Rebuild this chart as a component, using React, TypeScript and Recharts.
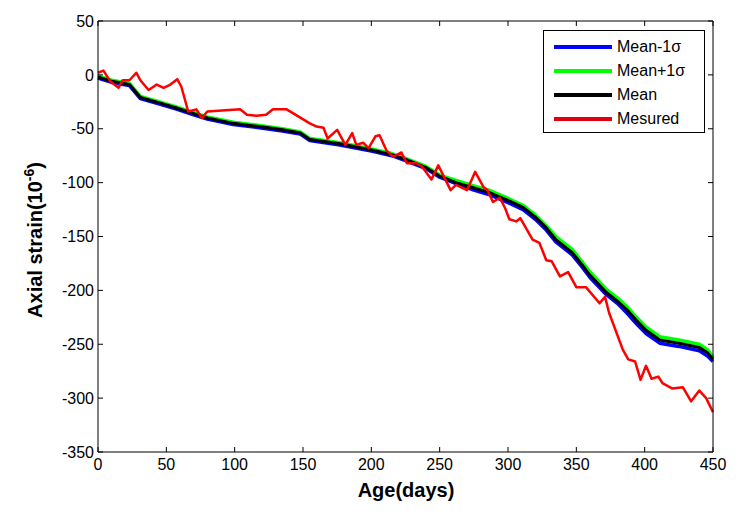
import { Line, LineChart, XAxis, YAxis } from "recharts";

const meanDays = [0, 10, 23, 31, 45, 58, 70, 80, 99, 118, 135, 148, 155, 177, 201, 215, 226, 240, 250, 262, 275, 286, 299, 311, 320, 328, 335, 347, 354, 360, 372, 380, 387, 394, 401, 411, 425, 440, 446, 450];
const meanValues = [-2, -6, -9, -21, -26, -31, -36, -40, -45, -48, -51, -54, -60, -64, -70, -74, -79, -86, -94, -100, -105, -109, -116, -123, -132, -142, -153, -165, -176, -186, -202, -210, -218, -228, -237, -246, -249, -253, -258, -264];
const plusValues = [-1, -5, -8, -20, -25, -30, -35, -39, -44, -47, -50, -53, -59, -63, -69, -73, -78, -85, -93, -98, -103, -107, -114, -121, -130, -140, -150, -162, -173, -183, -199, -207, -215, -225, -234, -243, -246, -250, -255, -262];
const minusValues = [-3, -7, -10, -22, -27, -32, -37, -41, -46, -49, -52, -55, -61, -65, -71, -75, -80, -87, -95, -101, -107, -111, -118, -125, -134, -144, -155, -167, -178, -188, -204, -212, -221, -231, -240, -249, -252, -256, -261, -266];

const measuredDays = [0, 4, 9, 15, 18, 23, 28, 31, 37, 43, 48, 53, 58, 61, 66, 72, 76, 80, 104, 109, 116, 123, 128, 138, 155, 160, 165, 168, 175, 181, 186, 189, 194, 198, 203, 206, 211, 216, 222, 226, 233, 237, 244, 249, 258, 262, 270, 276, 282, 285, 289, 294, 298, 301, 306, 309, 318, 323, 328, 332, 338, 344, 350, 357, 367, 371, 374, 384, 388, 393, 397, 401, 405, 410, 413, 420, 428, 434, 440, 445, 450];
const measuredValues = [2, 4, -6, -12, -5, -5, 2, -5, -14, -9, -12, -9, -4, -11, -34, -32, -40, -34, -32, -37, -38, -37, -32, -32, -45, -48, -49, -59, -51, -65, -54, -65, -63, -68, -57, -56, -70, -76, -72, -82, -82, -85, -97, -84, -107, -102, -107, -90, -104, -107, -118, -114, -124, -134, -136, -133, -153, -156, -172, -173, -187, -183, -197, -197, -212, -206, -221, -255, -264, -266, -283, -270, -282, -280, -286, -291, -290, -303, -293, -300, -313];

const xTicks = [0, 50, 100, 150, 200, 250, 300, 350, 400, 450];
const yTicks = [-350, -300, -250, -200, -150, -100, -50, 0, 50];

// the measured curve sits on the top/right axis pair (same domains) so that the box axes get drawn
const series = [
  { name: "Mean-1σ", color: "#0000ff", width: 3.5, values: minusValues, days: meanDays, xId: "0", yId: "0" },
  { name: "Mean+1σ", color: "#00ff00", width: 3.5, values: plusValues, days: meanDays, xId: "0", yId: "0" },
  { name: "Mean", color: "#000000", width: 3, values: meanValues, days: meanDays, xId: "0", yId: "0" },
  { name: "Mesured", color: "#ff0000", width: 2.5, values: measuredValues, days: measuredDays, xId: "top", yId: "right" },
];

const font = "'Liberation Sans', Arial, sans-serif";
const tickStyle = { fontSize: 16, fill: "#000", fontFamily: font };
const noLabel = () => <g />;

function LegendBox() {
  return (
    <div
      style={{
        position: "absolute",
        left: 543,
        top: 30,
        border: "1px solid #000",
        background: "#fff",
        width: 162,
        height: 103,
        boxSizing: "border-box",
        paddingTop: 4,
        fontFamily: font,
      }}
    >
      {series.map((s) => (
        <div key={s.name} style={{ display: "flex", alignItems: "center", height: 24 }}>
          <div style={{ marginLeft: 10, width: 58, height: 4, background: s.name === "Mesured" ? "#e00010" : s.color }} />
          <span style={{ marginLeft: 5, fontSize: 16, color: "#000" }}>{s.name}</span>
        </div>
      ))}
    </div>
  );
}

export default function App() {
  return (
    <div style={{ position: "absolute", left: 0, top: 0, width: 751, height: 524, background: "#fff" }}>
      <LineChart width={751} height={524} margin={{ top: 11, right: 28, bottom: 42, left: 38 }}>
        <XAxis
          xAxisId="0"
          dataKey="day"
          type="number"
          domain={[0, 450]}
          ticks={xTicks}
          height={30}
          tickSize={-5}
          tickMargin={12}
          tick={tickStyle}
          stroke="#000"
          allowDuplicatedCategory={false}
          label={{
            content: () => (
              <text x={406} y={497} textAnchor="middle" fontFamily={font} fontSize={20} fontWeight="bold" fill="#000">
                Age(days)
              </text>
            ),
          }}
        />
        <XAxis
          xAxisId="top"
          dataKey="day"
          orientation="top"
          type="number"
          domain={[0, 450]}
          ticks={xTicks}
          height={10}
          tickSize={-5}
          tick={noLabel}
          stroke="#000"
          allowDuplicatedCategory={false}
        />
        <YAxis
          yAxisId="0"
          type="number"
          domain={[-350, 50]}
          ticks={yTicks}
          width={60}
          tickSize={-5}
          tickMargin={9}
          tick={tickStyle}
          stroke="#000"
          label={{
            content: () => (
              <text x={42} y={240} transform="rotate(-90 42 240)" textAnchor="middle" fontFamily={font} fontSize={20} fontWeight="bold" fill="#000">
                Axial strain(10
                <tspan dy={-8} fontSize={14}>-6</tspan>
                <tspan dy={8}>)</tspan>
              </text>
            ),
          }}
        />
        <YAxis
          yAxisId="right"
          orientation="right"
          type="number"
          domain={[-350, 50]}
          ticks={yTicks}
          width={10}
          tickSize={-5}
          tick={noLabel}
          stroke="#000"
        />
        {series.map((s) => (
          <Line
            key={s.name}
            name={s.name}
            xAxisId={s.xId}
            yAxisId={s.yId}
            data={s.days.map((day, i) => ({ day, value: s.values[i] }))}
            dataKey="value"
            stroke={s.color}
            strokeWidth={s.width}
            dot={false}
            isAnimationActive={false}
            strokeLinejoin="round"
          />
        ))}
      </LineChart>
      <LegendBox />
    </div>
  );
}
